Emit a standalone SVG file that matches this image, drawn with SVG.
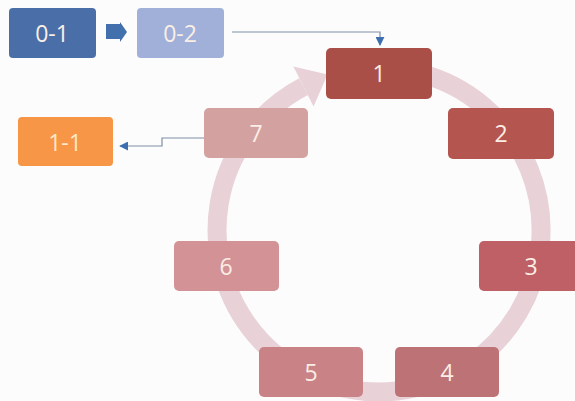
<svg xmlns="http://www.w3.org/2000/svg" width="575" height="401" viewBox="0 0 575 401">
<defs>
<style>
.lbl{font-family:"Open Sans","Liberation Sans",sans-serif;font-size:23px;fill:#fbeee6;text-anchor:middle;dominant-baseline:central}
.conn{fill:none;stroke:#7f8ea6;stroke-width:1.2}
.ring{fill:none;stroke:#e8d2d7;stroke-width:19}
</style>
<marker id="ah" viewBox="0 0 10 10" refX="9" refY="5" markerWidth="9" markerHeight="9" markerUnits="userSpaceOnUse" orient="auto">
<path d="M0,0 L10,5 L0,10 Z" fill="#3d6fb0"/>
</marker>
</defs>
<rect width="575" height="401" fill="#fcfcfd"/>
<g id="cycle-ring">
<path class="ring" d="M420.9,73.5 A162,162 0 1 1 303.5,86.7"/>
<path d="M293.4,66.5 L327.5,74.4 L313.5,106.5 Z" fill="#e8d2d7"/>
</g>
<g id="connectors">
<path d="M106,24 L120,24 L120,22 L127,32 L120,42 L120,39 L106,39 Z" fill="#4270ad"/>
<path class="conn" d="M232,32 L380,32 L380,45" marker-end="url(#ah)"/>
<path class="conn" d="M204,138 L162,138 L162,146 L120,146" marker-end="url(#ah)"/>
</g>
<g id="n0-1"><rect x="9" y="8" width="87" height="50" rx="4" fill="#4a6fa8"/><text class="lbl" x="52" y="33">0-1</text></g>
<g id="n0-2"><rect x="137" y="8" width="87" height="50" rx="4" fill="#a0b0d8"/><text class="lbl" x="180" y="33">0-2</text></g>
<g id="n1-1"><rect x="18" y="117" width="95" height="49" rx="4" fill="#f79646"/><text class="lbl" x="65" y="142" style="fill:#fde9c8">1-1</text></g>
<g id="n1"><rect x="326" y="48" width="106" height="51" rx="5" fill="#a94f48"/><text class="lbl" x="379" y="73">1</text></g>
<g id="n2"><rect x="448" y="108" width="106" height="51" rx="5" fill="#b55550"/><text class="lbl" x="501" y="133">2</text></g>
<g id="n3"><rect x="479" y="241" width="106" height="50" rx="5" fill="#bf5f66"/><text class="lbl" x="531" y="266">3</text></g>
<g id="n4"><rect x="395" y="347" width="104" height="50" rx="5" fill="#bd7376"/><text class="lbl" x="447" y="372">4</text></g>
<g id="n5"><rect x="259" y="347" width="104" height="50" rx="5" fill="#c98387"/><text class="lbl" x="311" y="372">5</text></g>
<g id="n6"><rect x="174" y="241" width="105" height="50" rx="5" fill="#d29296"/><text class="lbl" x="226" y="266">6</text></g>
<g id="n7"><rect x="204" y="108" width="104" height="50" rx="5" fill="#d4a1a1"/><text class="lbl" x="256" y="133">7</text></g>
</svg>
